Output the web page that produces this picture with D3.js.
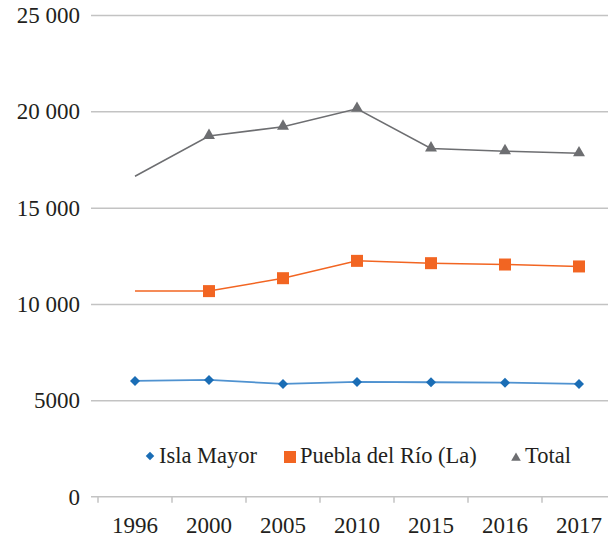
<!DOCTYPE html>
<html><head><meta charset="utf-8">
<script src="https://cdn.jsdelivr.net/npm/d3@7"></script>
<style>
html,body{margin:0;padding:0;background:#fff;}
svg{display:block;}
svg text{font-family:"Liberation Serif","Times New Roman",serif !important;}
</style></head><body>
<svg id="c" width="608" height="540"></svg>
<script>
const years = ["1996","2000","2005","2010","2015","2016","2017"];
const islaMayor = [6010, 6060, 5855, 5955, 5940, 5920, 5855];
const puebla = [10680, 10670, 11340, 12240, 12120, 12050, 11950];
const total = [16630, 18720, 19200, 20130, 18070, 17930, 17820];
const yTicks = [0, 5000, 10000, 15000, 20000, 25000];
const yTickLabels = ["0", "5000", "10 000", "15 000", "20 000", "25 000"];
const seriesNames = ["Isla Mayor", "Puebla del Río (La)", "Total"];

const FONT = "Liberation Serif";
const svg = d3.select("#c");
const x = d3.scaleBand().domain(years).range([98, 616]).padding(0);
const y = d3.scaleLinear().domain([0, 25000]).range([496.7, 15]);
const cx = d => x(d) + x.bandwidth() / 2;

// y axis: gridlines + labels via d3.axisLeft
const gy = svg.append("g").attr("transform", "translate(91,0)")
  .call(d3.axisLeft(y).tickValues(yTicks).tickSize(0).tickPadding(11)
    .tickFormat((d, i) => yTickLabels[i]));
gy.attr("font-family", FONT).attr("font-size", 23);
gy.select(".domain").remove();
gy.selectAll(".tick text").attr("fill", "#231f20").attr("dy", "0.33em")
  .style("font-family", FONT, "important");
gy.selectAll(".tick").filter(d => d > 0).append("line")
  .attr("x1", 0).attr("x2", 517).attr("stroke", "#c3c3c3").attr("stroke-width", 1.5);

// x axis via d3.axisBottom (labels at band centres)
const gx = svg.append("g").attr("transform", `translate(0,${y(0)})`)
  .call(d3.axisBottom(x).tickSize(0).tickPadding(20));
gx.attr("font-family", FONT).attr("font-size", 23);
gx.select(".domain").remove();
gx.selectAll(".tick text").attr("fill", "#231f20").style("font-family", FONT, "important");
gx.append("line").attr("x1", 91).attr("x2", 608).attr("y1", 0).attr("y2", 0)
  .attr("stroke", "#c3c3c3").attr("stroke-width", 1.5);
gx.selectAll(".bt").data(years).join("line").attr("class", "bt")
  .attr("x1", d => x(d)).attr("x2", d => x(d)).attr("y1", 0).attr("y2", 6)
  .attr("stroke", "#c3c3c3").attr("stroke-width", 1.5);

const line = d3.line().x((d, i) => cx(years[i])).y(d => y(d));

// Total
svg.append("path").datum(total).attr("d", line).attr("fill", "none")
  .attr("stroke", "#6d6e71").attr("stroke-width", 1.5);
svg.append("g").selectAll("path").data(total.slice(1)).join("path")
  .attr("d", d3.symbol().type(d3.symbolTriangle).size(62)).attr("fill", "#6d6e71")
  .attr("transform", (d, i) => `translate(${cx(years[i + 1])},${y(d) - 0.5})`);

// Puebla
svg.append("path").datum(puebla).attr("d", line).attr("fill", "none")
  .attr("stroke", "#f26522").attr("stroke-width", 1.5);
svg.append("g").selectAll("rect").data(puebla.slice(1)).join("rect")
  .attr("x", (d, i) => cx(years[i + 1]) - 6).attr("y", d => y(d) - 6)
  .attr("width", 12).attr("height", 12).attr("fill", "#f26522");

// Isla Mayor
svg.append("path").datum(islaMayor).attr("d", line).attr("fill", "none")
  .attr("stroke", "#4f92d0").attr("stroke-width", 1.8);
svg.append("g").selectAll("path").data(islaMayor).join("path")
  .attr("d", d3.symbol().type(d3.symbolSquare).size(50)).attr("fill", "#1a6db5")
  .attr("transform", (d, i) => `translate(${cx(years[i])},${y(d)}) rotate(45)`);

// legend
const lg = svg.append("g").attr("font-family", FONT).attr("font-size", 22.5).attr("fill", "#231f20");
const ly = 455;
const leg = (sel) => sel.style("font-family", FONT, "important");
lg.append("path").attr("d", d3.symbol().type(d3.symbolSquare).size(36)())
  .attr("fill", "#1a6db5").attr("transform", `translate(150,${ly + 1}) rotate(45)`);
lg.append("text").call(leg).attr("x", 159).attr("y", ly + 7.5).text(seriesNames[0]);
lg.append("rect").attr("x", 284).attr("y", ly - 4).attr("width", 12).attr("height", 12).attr("fill", "#f26522");
lg.append("text").call(leg).attr("x", 300).attr("y", ly + 7.5).text(seriesNames[1]);
lg.append("path").attr("d", d3.symbol().type(d3.symbolTriangle).size(40)())
  .attr("fill", "#6d6e71").attr("transform", `translate(516,${ly + 3})`);
lg.append("text").call(leg).attr("x", 525).attr("y", ly + 7.5).text(seriesNames[2]);
</script>
</body></html>
